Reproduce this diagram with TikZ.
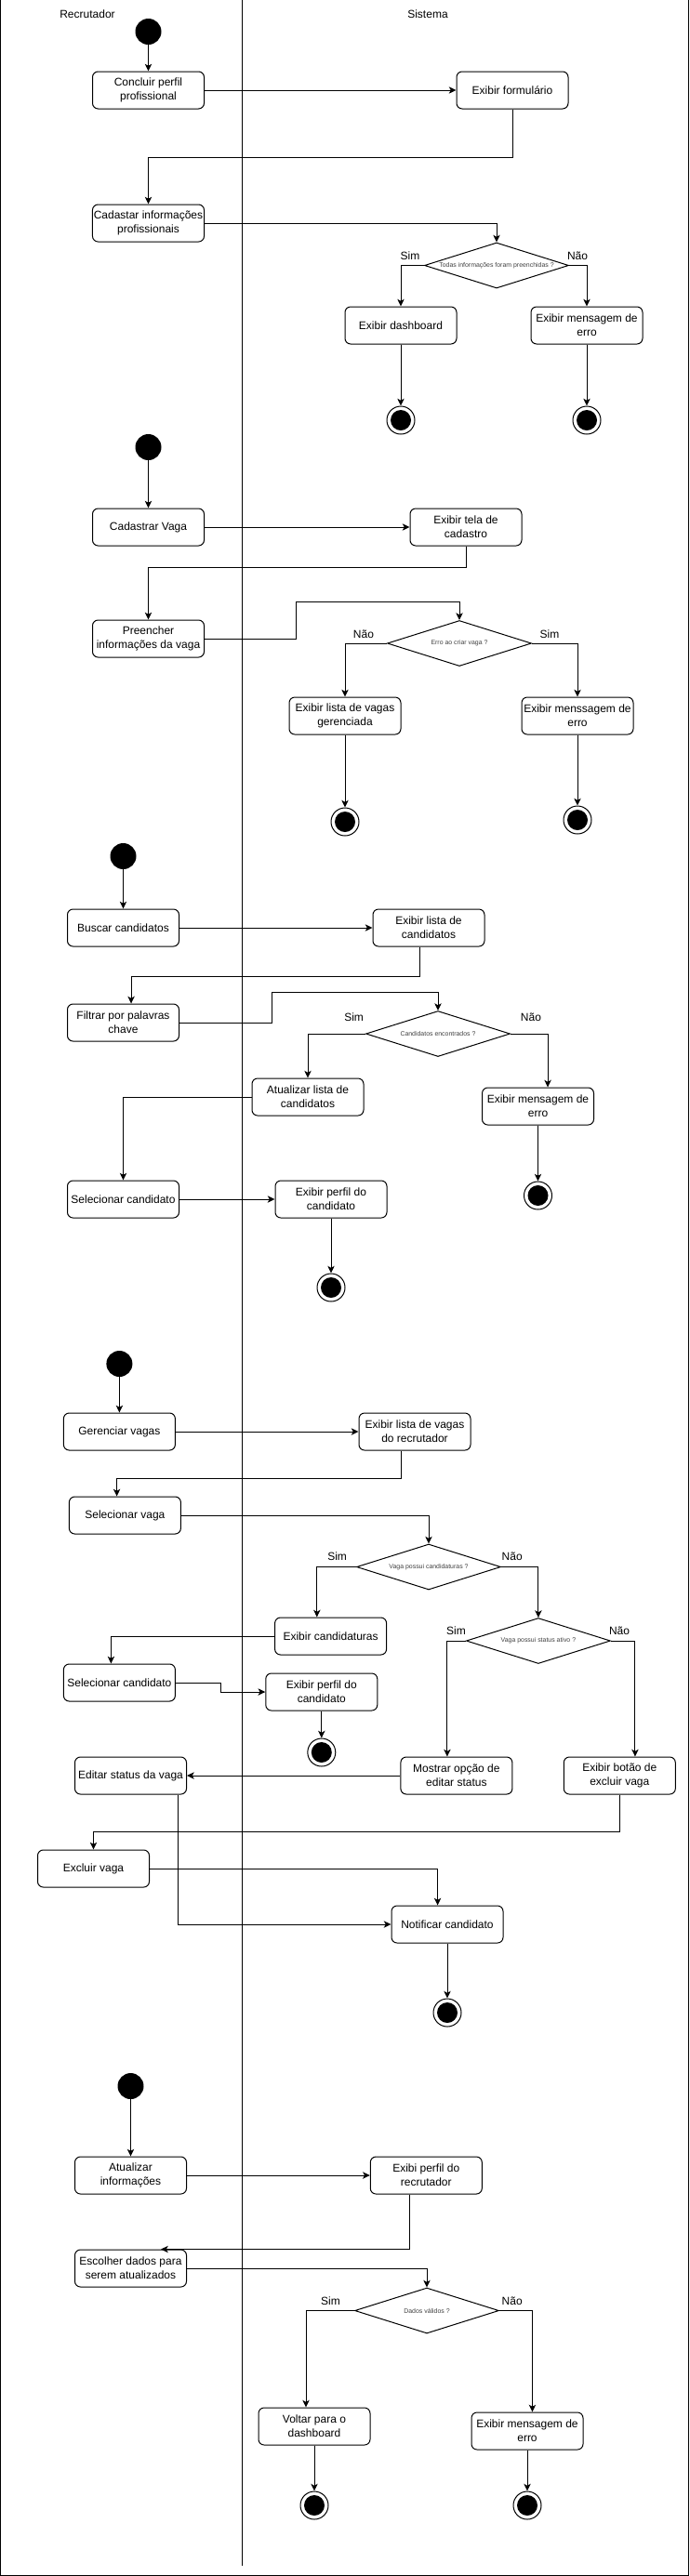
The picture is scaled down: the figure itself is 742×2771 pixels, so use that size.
\documentclass[tikz,border=0pt]{standalone}
\usepackage{fontspec}
\setmainfont{Liberation Sans}
\usepackage{tikz}
\usetikzlibrary{positioning}
\usetikzlibrary{shapes.geometric}
\usetikzlibrary{arrows.meta}
\colorlet{decisiontext}{black!75}
\tikzset{>={Stealth[length=5.8pt,width=5.5pt,inset=1.5pt]}}
\tikzset{
  activity/.style={draw, rounded corners=4.5pt, line width=0.75pt,
    minimum width=90pt, minimum height=30pt, align=center, inner sep=1pt,
    font=\fontsize{9}{11.25}\selectfont},
  decision/.style={draw, diamond, aspect=3.16, line width=0.75pt,
    minimum width=116.25pt, minimum height=36.75pt, inner sep=0pt,
    font=\fontsize{5.2}{6}\selectfont, text=decisiontext},
  startnode/.style={circle, fill=black, minimum size=21pt, inner sep=0pt},
  endnode/.style={circle, draw, line width=0.75pt, minimum size=22.5pt, inner sep=0pt,
    path picture={\fill[black] (path picture bounding box.center) circle (8.25pt);}},
  guard/.style={font=\fontsize{9}{11}\selectfont, inner sep=0pt},
  flow/.style={->, line width=0.75pt},
  lane/.style={line width=0.75pt},
}

\begin{document}
\begin{tikzpicture}[x=0.75pt, y=-0.75pt]
\useasboundingbox (0,0) rectangle (742,2771);

% ================= Lanes =================
\draw[lane] (0.5,0) -- (0.5,2770) -- (740,2770) -- (740,0);
\draw[lane] (260.5,0) -- (260.5,2760);
\node[guard] (lblrec) at (94,15) {Recrutador};
\node[guard] (lblsis) at (460,15) {Sistema};

% ================= Perfil profissional =================
\node[startnode] (start1) at (159.5,34) {};
\node[activity] (concluir) at (159.5,97) {Concluir perfil\\profissional};
\node[activity] (formulario) at (551,97) {Exibir formulário};
\node[activity] (cadastar) at (159.5,240) {Cadastar informações\\profissionais};
\node[decision] (dec1) at (534,285.5) {Todas informações foram preenchidas ?};
\node[activity] (dashboard) at (431,350) {Exibir dashboard};
\node[activity] (erro1) at (631,350) {Exibir mensagem de\\erro};
\node[guard] (sim1) at (441,275) {Sim};
\node[guard] (nao1) at (621,275) {Não};
\foreach \n/\x/\y in {end1a/431/452, end1b/631/452}{
  \node[endnode] (\n) at (\x,\y) {};
}

\draw[flow] (start1) -- (concluir);
\draw[flow] (concluir) -- (formulario);
\draw[flow] (formulario.south) -- ++(0,52) -| (cadastar.north);
\draw[flow] (cadastar.east) -| (dec1.north);
\draw[flow] (dec1.west) -| (dashboard.north);
\draw[flow] (dec1.east) -| (erro1.north);
\draw[flow] (dashboard) -- (end1a);
\draw[flow] (erro1) -- (end1b);

% ================= Cadastro de vaga =================
\node[startnode] (start2) at (159.5,481) {};
\node[activity] (cadvaga) at (159.5,567) {Cadastrar Vaga};
\node[activity] (telacad) at (501,567) {Exibir tela de\\cadastro};
\node[activity] (preencher) at (159.5,687) {Preencher\\informações da vaga};
\node[decision] (dec2) at (494,692) {Erro ao criar vaga ?};
\node[activity] (listager) at (371,770) {Exibir lista de vagas\\gerenciada};
\node[activity] (errob) at (621,770) {Exibir menssagem de\\erro};
\node[guard] (nao2) at (391,682) {Não};
\node[guard] (sim2) at (591,682) {Sim};
\foreach \n/\x/\y in {end2a/371/884, end2b/621/882}{
  \node[endnode] (\n) at (\x,\y) {};
}

\draw[flow] (start2) -- (cadvaga);
\draw[flow] (cadvaga) -- (telacad);
\draw[flow] (telacad.south) -- ++(0,23) -| (preencher.north);
\draw[flow] (preencher.east) -- ++(98,0) -- ++(0,-40) -| (dec2.north);
\draw[flow] (dec2.west) -| (listager.north);
\draw[flow] (dec2.east) -| (errob.north);
\draw[flow] (listager) -- (end2a);
\draw[flow] (errob) -- (end2b);

% ================= Busca de candidatos =================
\node[startnode] (start3) at (132.5,921) {};
\node[activity] (buscar) at (132.5,998) {Buscar candidatos};
\node[activity] (listacand) at (461,998) {Exibir lista de\\candidatos};
\node[activity] (filtrar) at (132.5,1100) {Filtrar por palavras\\chave};
\node[decision] (dec3) at (471,1112) {Candidatos encontrados ?};
\node[activity] (atualizar) at (331,1180) {Atualizar lista de\\candidatos};
\node[activity] (erro3) at (578.5,1190) {Exibir mensagem de\\erro};
\node[activity] (selcand) at (132.5,1290) {Selecionar candidato};
\node[activity] (perfil3) at (356,1290) {Exibir perfil do\\candidato};
\node[guard] (sim3) at (380.6,1094) {Sim};
\node[guard] (nao3) at (571,1094) {Não};
\foreach \n/\x/\y in {end3a/578.5/1286, end3b/356/1385}{
  \node[endnode] (\n) at (\x,\y) {};
}

\draw[flow] (start3) -- (buscar);
\draw[flow] (buscar) -- (listacand);
\draw[flow] ([xshift=-7.5pt]listacand.south) -- ++(0,32) -| ([xshift=6.4pt]filtrar.north);
\draw[flow] (filtrar.east) -- ++(99.6,0) -- ++(0,-33) -| (dec3.north);
\draw[flow] (dec3.west) -| (atualizar.north);
\draw[flow] (dec3.east) -| ([xshift=7.9pt]erro3.north);
\draw[flow] (erro3) -- (end3a);
\draw[flow] (atualizar.west) -| (selcand.north);
\draw[flow] (selcand) -- (perfil3);
\draw[flow] (perfil3) -- (end3b);

% ================= Gerenciar vagas =================
\node[startnode] (start4) at (128.4,1467) {};
\node[activity] (gerenciar) at (128.4,1540) {Gerenciar vagas};
\node[activity] (listavagas) at (446,1540) {Exibir lista de vagas\\do recrutador};
\node[activity] (selvaga) at (134.4,1630) {Selecionar vaga};
\node[decision] (dec4a) at (461,1685.5) {Vaga possui candidaturas ?};
\node[activity] (candidaturas) at (355.6,1760) {Exibir candidaturas};
\node[decision] (dec4b) at (578.9,1765) {Vaga possui status ativo ?};
\node[activity] (selcand2) at (128.4,1810) {Selecionar candidato};
\node[activity] (perfil4) at (345.8,1820) {Exibir perfil do\\candidato};
\node[activity] (editar) at (140.5,1910) {Editar status da vaga};
\node[activity] (mostrar) at (490.9,1910) {Mostrar opção de\\editar status};
\node[activity] (excluirbtn) at (666.3,1910) {Exibir botão de\\excluir vaga};
\node[activity] (excluir) at (100.5,2010) {Excluir vaga};
\node[activity] (notificar) at (481,2070) {Notificar candidato};
\node[guard] (sim4a) at (362.6,1674) {Sim};
\node[guard] (nao4a) at (550.7,1674) {Não};
\node[guard] (sim4b) at (490.5,1754) {Sim};
\node[guard] (nao4b) at (666,1754) {Não};
\foreach \n/\x/\y in {end4a/345.8/1885, end4b/481/2165}{
  \node[endnode] (\n) at (\x,\y) {};
}

\draw[flow] (start4) -- (gerenciar);
\draw[flow] (gerenciar) -- (listavagas);
\draw[flow] ([xshift=-11.25pt]listavagas.south) -- ++(0,30) -| ([xshift=-6.6pt]selvaga.north);
\draw[flow] (selvaga.east) -| (dec4a.north);
\draw[flow] (dec4a.west) -| ([xshift=-11.1pt]candidaturas.north);
\draw[flow] (dec4a.east) -| (dec4b.north);
\draw[flow] (candidaturas.west) -| ([xshift=-6.75pt]selcand2.north);
\draw[flow] (selcand2.east) -- ++(49,0) |- (perfil4.west);
\draw[flow] (perfil4) -- (end4a);
\draw[flow] (dec4b.west) -| ([xshift=-7.5pt]mostrar.north);
\draw[flow] (dec4b.east) -| ([xshift=12.5pt]excluirbtn.north);
\draw[flow] (mostrar.west) -- (editar.east);
\draw[flow] (excluirbtn.south) -- ++(0,40) -| (excluir.north);
\draw[flow] (excluir.east) -| ([xshift=-7.8pt]notificar.north);
\draw[flow] ([xshift=37.9pt]editar.south) |- (notificar.west);
\draw[flow] (notificar) -- (end4b);

% ================= Atualizar informações =================
\node[startnode] (start5) at (140.5,2244) {};
\node[activity] (atualinfo) at (140.5,2340) {Atualizar\\informações};
\node[activity] (exibiperfil) at (458.3,2340) {Exibi perfil do\\recrutador};
\node[activity] (escolher) at (140.5,2440) {Escolher dados para\\serem atualizados};
\node[decision] (dec5) at (459,2485.5) {Dados válidos ?};
\node[activity] (voltar) at (338,2610) {Voltar para o\\dashboard};
\node[activity] (erro5) at (567,2615) {Exibir mensagem de\\erro};
\node[guard] (sim5) at (355.5,2475) {Sim};
\node[guard] (nao5) at (550.7,2475) {Não};
\foreach \n/\x/\y in {end5a/338/2695, end5b/567/2695}{
  \node[endnode] (\n) at (\x,\y) {};
}

\draw[flow] (start5) -- (atualinfo);
\draw[flow] (atualinfo) -- (exibiperfil);
\draw[flow] ([xshift=-13pt]exibiperfil.south) |- ([xshift=24.4pt]escolher.north);
\draw[flow] (escolher.east) -| (dec5.north);
\draw[flow] (dec5.west) -| ([xshift=-6.75pt]voltar.north);
\draw[flow] (dec5.east) -| ([xshift=4.1pt]erro5.north);
\draw[flow] (voltar) -- (end5a);
\draw[flow] (erro5) -- (end5b);

\end{tikzpicture}
\end{document}
